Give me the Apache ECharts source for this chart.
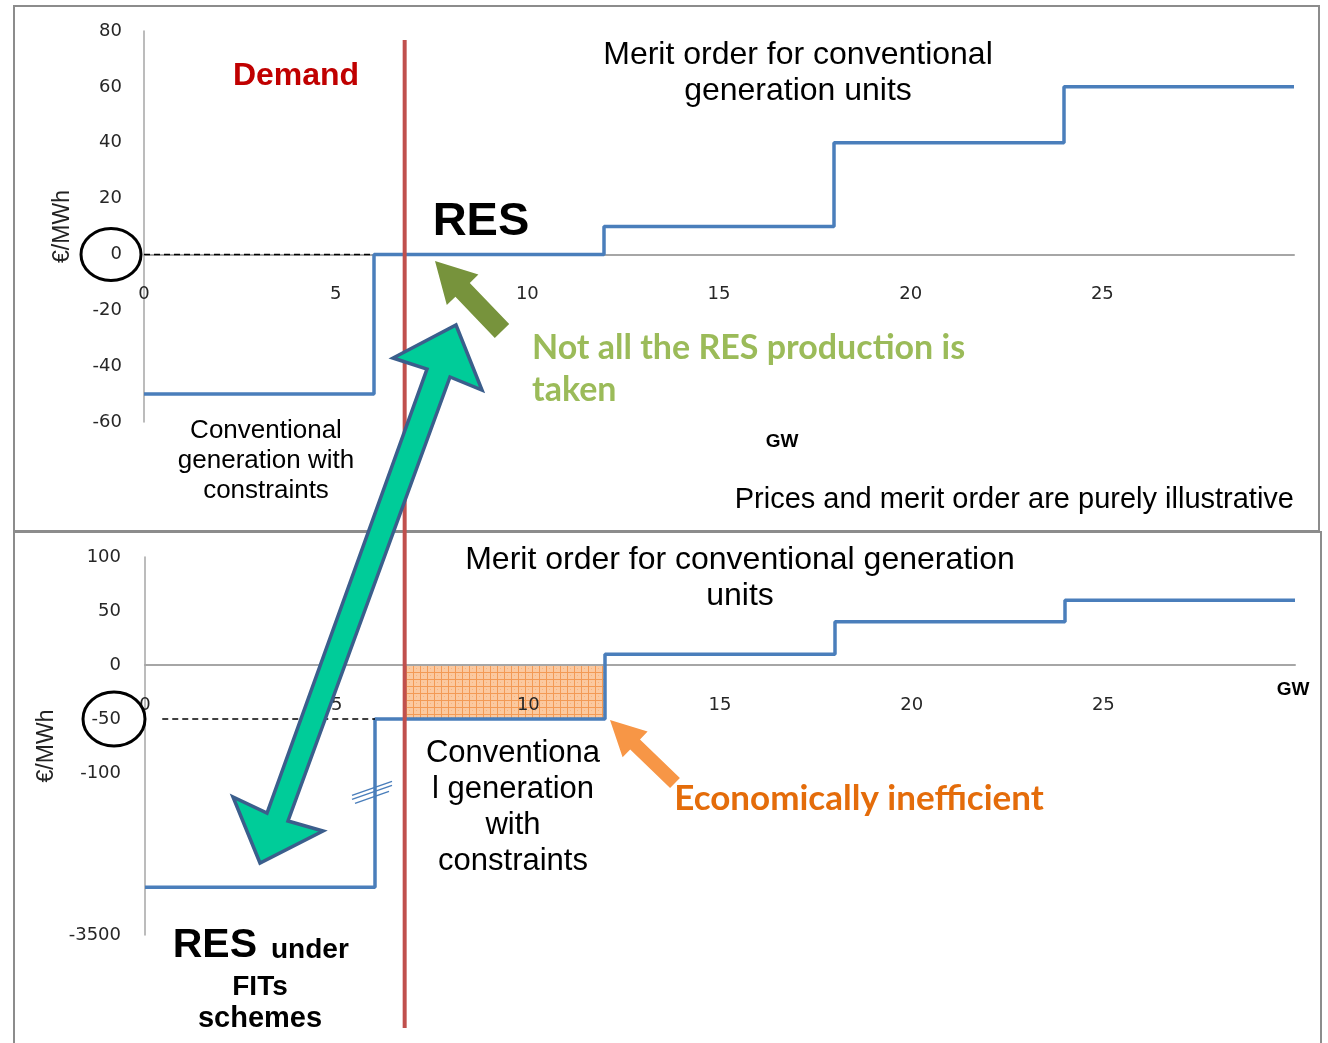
<!DOCTYPE html>
<html>
<head>
<meta charset="utf-8">
<script src="https://cdn.jsdelivr.net/npm/echarts@6/dist/echarts.min.js"></script>
<style>
  html, body { margin: 0; padding: 0; background: #fff; }
  #root { width: 1328px; height: 1043px; }
</style>
</head>
<body>
<div id="root"></div>
<script>
// x positions where the merit order steps (GW)
const stepX = [0, 6, 12, 18, 24, 30];
// block prices, upper panel (€/MWh)
const topPrice = [-50, 0, 10, 40, 60];
// block prices, lower panel (€/MWh) - first block sits below the axis break
const bottomPrice = [-2500, -50, 10, 40, 60];
// demand (GW)
const demand = 6.8;
// inefficient zone in lower panel: demand -> end of constrained block, price 0 -> -50
const zoneX = [6.8, 12];
const zoneY = [0, -50];
// dashed reference lines
const topDash = [[0, 0], [6, 0]];
const bottomDash = [[0.45, -50], [6, -50]];

const xTicks = [0, 5, 10, 15, 20, 25];
const bottomYTicks = ['100', '50', '0', '-50', '-100', '-3500'];

// broken axis: everything below -100 is squeezed into one more 150-unit band
function brk(v) {
  return v >= -100 ? v : -100 + (v + 100) * (150 / 3400);
}

function steps(prices, map) {
  return stepX.map((x, i) => [x, map(prices[Math.min(i, prices.length - 1)])]);
}

const tickFont = { fontFamily: 'DejaVu Sans', fontSize: 18, color: '#262626' };
const axisGray = '#A6A6A6';
const blue = '#4A7EBB';

// grids and y ranges, x axis placed where y = 0
const grids = [
  { left: 144, right: 34, top: 31, height: 391, ymin: -60, ymax: 80 },
  { left: 145, right: 33, top: 557, height: 378, ymin: -250, ymax: 100 }
];
function zeroOffset(g) {
  return -g.height * (0 - g.ymin) / (g.ymax - g.ymin);
}

let myChart = echarts.init(document.querySelector('#root'));

let option = {
  animation: false,
  grid: grids.map(g => ({ left: g.left, right: g.right, top: g.top, height: g.height })),
  xAxis: grids.map((g, i) => ({
    gridIndex: i,
    type: 'value',
    min: 0, max: 30, interval: 5,
    position: 'bottom',
    offset: zeroOffset(g),
    z: 5,
    axisLine: { onZero: false, lineStyle: { color: axisGray, width: 2 } },
    axisTick: { show: false },
    splitLine: { show: false },
    axisLabel: Object.assign({ margin: 31, formatter: v => xTicks.includes(v) ? String(v) : '' }, tickFont)
  })),
  yAxis: [
    {
      gridIndex: 0, type: 'value', min: -60, max: 80, interval: 20,
      axisLine: { show: true, onZero: false, lineStyle: { color: axisGray, width: 1.5 } },
      axisTick: { show: false }, splitLine: { show: false },
      axisLabel: Object.assign({ margin: 22 }, tickFont),
      name: '€/MWh', nameLocation: 'middle', nameGap: 70,
      nameTextStyle: { fontFamily: 'Liberation Sans', fontSize: 23, color: '#222' }
    },
    {
      gridIndex: 1, type: 'value', min: -250, max: 100, interval: 50,
      axisLine: { show: true, onZero: false, lineStyle: { color: axisGray, width: 1.5 } },
      axisTick: { show: false }, splitLine: { show: false },
      axisLabel: Object.assign({
        margin: 24,
        formatter: v => {
          const t = bottomYTicks.find(s => brk(Number(s)) === v);
          return t === undefined ? '' : t;
        }
      }, tickFont),
      name: '€/MWh', nameLocation: 'middle', nameGap: 84,
      nameTextStyle: { fontFamily: 'Liberation Sans', fontSize: 23, color: '#222' }
    }
  ],
  series: [
    {
      type: 'line', xAxisIndex: 0, yAxisIndex: 0, step: 'end', symbol: 'none',
      lineStyle: { color: blue, width: 3.5 }, z: 6,
      data: steps(topPrice, v => v)
    },
    {
      type: 'line', xAxisIndex: 1, yAxisIndex: 1, step: 'end', symbol: 'none',
      lineStyle: { color: blue, width: 3.5 }, z: 6,
      data: steps(bottomPrice, brk)
    },
    {
      // hatched zone, kept under the axis labels
      type: 'line', xAxisIndex: 1, yAxisIndex: 1, symbol: 'none', z: 1,
      data: [],
      markArea: {
        silent: true, z: 1,
        itemStyle: { color: 'rgba(250,190,140,0.9)' },
        data: [[{ xAxis: zoneX[0], yAxis: zoneY[0] }, { xAxis: zoneX[1], yAxis: zoneY[1] }]]
      }
    },
    {
      type: 'line', xAxisIndex: 0, yAxisIndex: 0, symbol: 'none', z: 6,
      lineStyle: { color: '#000', width: 1.5, type: [6, 4] },
      data: topDash
    },
    {
      type: 'line', xAxisIndex: 1, yAxisIndex: 1, symbol: 'none', z: 6,
      lineStyle: { color: '#000', width: 1.5, type: [6, 4] },
      data: bottomDash
    }
  ]
};

// hatch pattern for the inefficient zone
const pat = document.createElement('canvas');
pat.width = 7; pat.height = 7;
const pc = pat.getContext('2d');
pc.fillStyle = '#FBC9A0';
pc.fillRect(0, 0, 7, 7);
pc.fillStyle = '#F39A55';
pc.fillRect(0, 0, 7, 1);
pc.fillRect(0, 0, 1, 7);
pc.fillStyle = '#F7B47E';
pc.fillRect(3, 3, 1, 1);
option.series[2].markArea.itemStyle.color = { image: pat, repeat: 'repeat' };

myChart.setOption(option);

// annotations
const dx = myChart.convertToPixel({ gridIndex: 0 }, [demand, 0])[0];
const top0 = myChart.convertToPixel({ gridIndex: 0 }, [0, 0])[1];
const bot50 = myChart.convertToPixel({ gridIndex: 1 }, [0, -50])[1];
const lowY = myChart.convertToPixel({ gridIndex: 1 }, [0, brk(-2500)])[1];
const sixX = myChart.convertToPixel({ gridIndex: 1 }, [6, 0])[0];

function txt(text, x, y, size, opts) {
  return {
    type: 'text', z: 100,
    style: Object.assign({
      text: text, x: x, y: y,
      fontFamily: 'Liberation Sans', fontSize: size, fill: '#000',
      align: 'center', verticalAlign: 'middle'
    }, opts || {})
  };
}

const greenArrow = [[456, 325], [482, 390], [450, 377], [288, 821], [323, 831], [260, 863], [233, 797], [267, 813], [427, 369], [393, 358]];
const oliveArrow = [[435, 261], [478.4, 274.6], [469.8, 282.9], [509.2, 324.1], [494.8, 337.9], [455.4, 296.7], [446.8, 305]];
const orangeArrow = [[610, 720], [647.6, 731.5], [640, 739.4], [679.9, 778], [670.1, 788], [630.2, 749.4], [622.6, 757.3]];

const graphics = [
  // panel frames
  { type: 'rect', z: 1, shape: { x: 14, y: 6, width: 1305, height: 525 }, style: { fill: 'none', stroke: '#8C8C8C', lineWidth: 2 } },
  { type: 'rect', z: 1, shape: { x: 14, y: 532, width: 1307, height: 515 }, style: { fill: 'none', stroke: '#8C8C8C', lineWidth: 2 } },
  // demand line
  { type: 'line', z: 50, shape: { x1: dx, y1: 40, x2: dx, y2: 1028 }, style: { stroke: '#C0504D', lineWidth: 4 } },
  // circled tick labels
  { type: 'ellipse', z: 60, shape: { cx: 111, cy: top0, rx: 30, ry: 26 }, style: { fill: 'none', stroke: '#000', lineWidth: 3 } },
  { type: 'ellipse', z: 60, shape: { cx: 114, cy: bot50, rx: 31, ry: 27 }, style: { fill: 'none', stroke: '#000', lineWidth: 3 } },
  // break marks on the lower step
  { type: 'line', z: 60, shape: { x1: sixX - 23, y1: lowY - 92, x2: sixX + 17, y2: lowY - 106 }, style: { stroke: blue, lineWidth: 1.5 } },
  { type: 'line', z: 60, shape: { x1: sixX - 23, y1: lowY - 88, x2: sixX + 17, y2: lowY - 102 }, style: { stroke: blue, lineWidth: 1.5 } },
  { type: 'line', z: 60, shape: { x1: sixX - 20, y1: lowY - 84, x2: sixX + 14, y2: lowY - 96 }, style: { stroke: blue, lineWidth: 1.5 } },
  // arrows
  { type: 'polygon', z: 80, shape: { points: oliveArrow }, style: { fill: '#77933C' } },
  { type: 'polygon', z: 80, shape: { points: orangeArrow }, style: { fill: '#F79646' } },
  { type: 'polygon', z: 90, shape: { points: greenArrow }, style: { fill: '#00CC99', stroke: '#3B5E8C', lineWidth: 3.5, lineJoin: 'miter' } },
  // texts, upper panel
  txt('Demand', 296, 76, 32, { fontWeight: 'bold', fill: '#C00000' }),
  txt('Merit order for conventional\ngeneration units', 798, 73, 32, { lineHeight: 36 }),
  txt('RES', 481, 222, 47, { fontWeight: 'bold' }),
  txt('Not all the RES production is\ntaken', 532, 369, 34, { align: 'left', fontFamily: 'Lato', fontWeight: 'bold', fill: '#9BBB59', lineHeight: 42 }),
  txt('Conventional\ngeneration with\nconstraints', 266, 461, 26, { lineHeight: 30 }),
  txt('GW', 782, 442, 19, { fontWeight: 'bold' }),
  txt('Prices and merit order are purely illustrative', 1294, 500, 29, { align: 'right' }),
  // texts, lower panel
  txt('Merit order for conventional generation\nunits', 740, 578, 32, { lineHeight: 36 }),
  txt('Conventiona\nl generation\nwith\nconstraints', 513, 807, 31, { lineHeight: 36 }),
  txt('Economically inefficient', 859, 799, 35, { fontFamily: 'Lato', fontWeight: 'bold', fill: '#E46C0A' }),
  txt('GW', 1293, 690, 19, { fontWeight: 'bold' }),
  txt('RES', 257, 946, 41, { align: 'right', fontWeight: 'bold' }),
  txt('under', 271, 950, 28, { align: 'left', fontWeight: 'bold' }),
  txt('FITs', 260, 987, 28, { fontWeight: 'bold' }),
  txt('schemes', 260, 1019, 29, { fontWeight: 'bold' })
];

myChart.setOption({ graphic: graphics });

window.addEventListener('resize', function () {
  myChart.resize();
});
</script>
</body>
</html>
